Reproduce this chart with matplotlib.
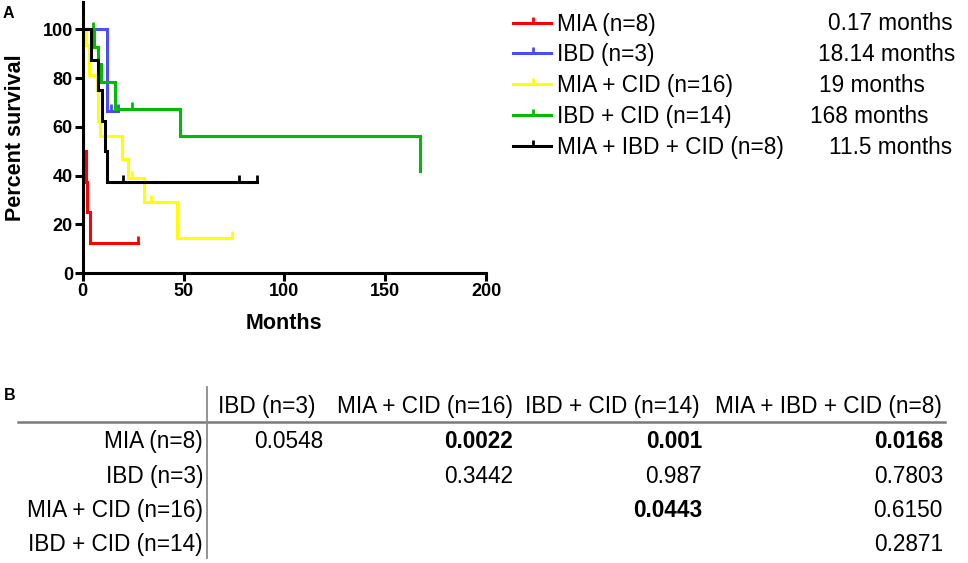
import numpy as np
import matplotlib
matplotlib.use("Agg")
import matplotlib.pyplot as plt
from matplotlib.lines import Line2D

# ---------------- data ----------------
groups = ["MIA (n=8)", "IBD (n=3)", "MIA + CID (n=16)", "IBD + CID (n=14)", "MIA + IBD + CID (n=8)"]
colors = ["#FF0000", "#4B4BFF", "#FFFF00", "#00BB00", "#000000"]
medians = ["0.17 months", "18.14 months", "19 months", "168 months", "11.5 months"]

# Kaplan-Meier step times (months) and survival (%)
mia_t = [0, 0.17, 1.6, 2.3, 3.6, 27.4]
mia_s = [100, 50, 37.5, 25, 12.5, 12.5]
mia_cens = [27.4]

ibd_t = [0, 12.0, 17.7]
ibd_s = [100, 66.67, 66.67]
ibd_cens = [14.2, 17.7]

miacid_t = [0, 1.5, 3.0, 7.2, 7.8, 8.6, 19.3, 22.6, 30.5, 46.6, 73.9]
miacid_s = [100, 93.75, 81.25, 75, 62.5, 56.25, 46.88, 39.06, 29.3, 14.65, 14.65]
miacid_cens = [24.6, 33.7, 73.9]

ibdcid_t = [0, 5.6, 7.5, 9.3, 16.0, 48.2, 167.2]
ibdcid_s = [100, 92.86, 85.71, 78.57, 67.35, 56.12, 42.09]
ibdcid_cens = [5.1, 24.5]

all_t = [0, 4.0, 7.7, 9.6, 10.9, 11.9, 86.6]
all_s = [100, 87.5, 75, 62.5, 50, 37.5, 37.5]
all_cens = [20.0, 77.6, 86.6]

curves_t = [mia_t, ibd_t, miacid_t, ibdcid_t, all_t]
curves_s = [mia_s, ibd_s, miacid_s, ibdcid_s, all_s]
curves_c = [mia_cens, ibd_cens, miacid_cens, ibdcid_cens, all_cens]

x_ticks = [0, 50, 100, 150, 200]
y_ticks = [0, 20, 40, 60, 80, 100]

# p-value table
tbl_cols = ["IBD (n=3)", "MIA + CID (n=16)", "IBD + CID (n=14)", "MIA + IBD + CID (n=8)"]
tbl_rows = ["MIA (n=8)", "IBD (n=3)", "MIA + CID (n=16)", "IBD + CID (n=14)"]
tbl_vals = [
    ["0.0548", "0.0022", "0.001", "0.0168"],
    ["", "0.3442", "0.987", "0.7803"],
    ["", "", "0.0443", "0.6150"],
    ["", "", "", "0.2871"],
]

# ---------------- figure ----------------
W, H = 968, 563
fig = plt.figure(figsize=(W / 100, H / 100), dpi=100)
FONT = "Liberation Sans"


def fx(x):
    return x / W


def fy(y):
    return 1 - y / H


ax_l, ax_r, ax_t, ax_b = 82.7, 486.0, 1.7, 273.3
ax = fig.add_axes([fx(ax_l), fy(ax_b), (ax_r - ax_l) / W, (ax_b - ax_t) / H])

for t, s, c, col in zip(curves_t, curves_s, curves_c, colors):
    ax.step(t, s, where="post", color=col, lw=2.2, solid_joinstyle="miter", zorder=2)
    t_arr = np.array(t)
    s_arr = np.array(s)
    cs = [s_arr[np.searchsorted(t_arr, ct, side="right") - 1] for ct in c]
    ax.plot(c, cs, linestyle="none", marker=2, markersize=5, markeredgewidth=2.0,
            color=col, zorder=2)

ax.set_xlim(0, 200)
ax.set_ylim(0, 111.3)
ax.set_xticks(x_ticks)
ax.set_yticks(y_ticks)
for sp in ["top", "right"]:
    ax.spines[sp].set_visible(False)
for sp in ["left", "bottom"]:
    ax.spines[sp].set_linewidth(2.2)
ax.tick_params(axis="both", width=2.2, length=6, pad=1, labelsize=13)
for lab in ax.get_xticklabels() + ax.get_yticklabels():
    lab.set_fontfamily(FONT)
    lab.set_fontweight("bold")

ax.set_xlabel("Months", fontsize=15.5, fontweight="bold", family=FONT)
ax.set_ylabel("Percent survival", fontsize=15.5, fontweight="bold", family=FONT)
ax.xaxis.set_label_coords(0.5, (ax_b - 313) / (ax_b - ax_t))
ax.yaxis.set_label_coords((26 - ax_l) / (ax_r - ax_l), 0.5)

# panel letters
fig.text(fx(3), fy(18), "A", fontsize=11.5, fontweight="bold", family=FONT, ha="left", va="baseline")
fig.text(fx(4), fy(400), "B", fontsize=11.5, fontweight="bold", family=FONT, ha="left", va="baseline")

# legend (manual)
leg_rows = [22.5, 53.3, 84.1, 114.9, 145.7]
med_x = [828, 818, 819, 810, 829]
for g, col, med, ry, mx in zip(groups, colors, medians, leg_rows, med_x):
    fig.add_artist(Line2D([fx(513), fx(551)], [fy(ry), fy(ry)], color=col, lw=2.2,
                          transform=fig.transFigure))
    fig.add_artist(Line2D([fx(533)], [fy(ry)], color=col, marker=2, markersize=4,
                          markeredgewidth=2.0, linestyle="none", transform=fig.transFigure))
    fig.text(fx(557), fy(ry + 8), g, fontsize=16.3, family=FONT, ha="left", va="baseline")
    fig.text(fx(mx), fy(ry + 8), med, fontsize=16.3, family=FONT, ha="left", va="baseline")

# table
TFS = 16.3
hdr_base = 413
row_base = [448, 483, 517, 551]
hdr_x = [(218, "left"), (513, "right"), (700, "right"), (942, "right")]
val_right = [323, 513, 702, 943]
for (hx, ha), name in zip(hdr_x, tbl_cols):
    fig.text(fx(hx), fy(hdr_base), name, fontsize=TFS, family=FONT, ha=ha, va="baseline")
for rb, rname, vals in zip(row_base, tbl_rows, tbl_vals):
    fig.text(fx(203), fy(rb), rname, fontsize=TFS, family=FONT, ha="right", va="baseline")
    for vx, v in zip(val_right, vals):
        if v:
            bold = float(v) < 0.05
            fig.text(fx(vx), fy(rb), v, fontsize=TFS, family=FONT, ha="right", va="baseline",
                     fontweight="bold" if bold else "normal")

fig.add_artist(Line2D([fx(18), fx(945)], [fy(422), fy(422)], color="#7a7a7a", lw=1.8,
                      transform=fig.transFigure))
fig.add_artist(Line2D([fx(207), fx(207)], [fy(387), fy(558)], color="#8a8a8a", lw=1.3,
                      transform=fig.transFigure))

fig.savefig("out.png", dpi=100)
